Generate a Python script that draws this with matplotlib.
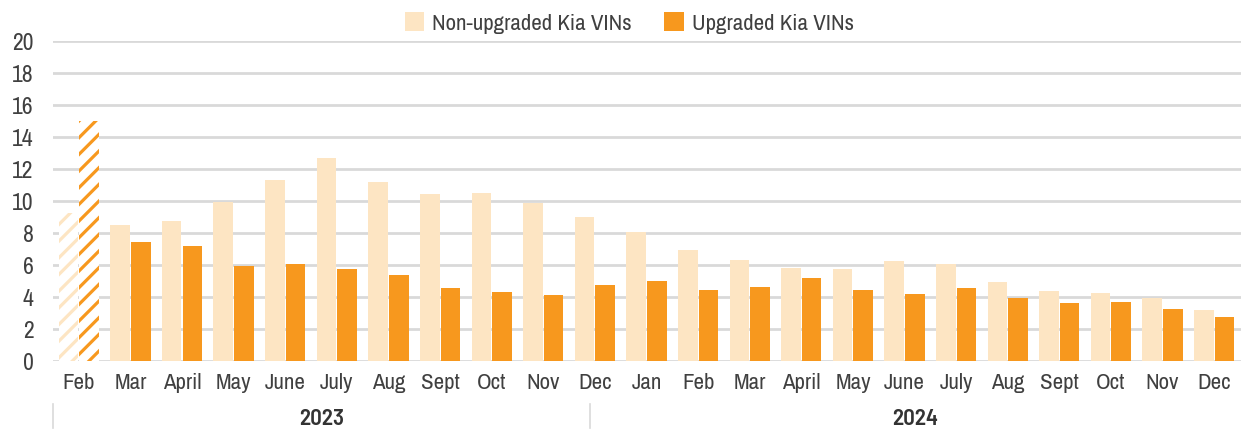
import numpy as np
import matplotlib
matplotlib.use('Agg')
import matplotlib.pyplot as plt
from matplotlib.patches import Patch
from matplotlib.lines import Line2D

# Data
MONTHS = ['Feb', 'Mar', 'April', 'May', 'June', 'July', 'Aug', 'Sept', 'Oct', 'Nov', 'Dec',
          'Jan', 'Feb', 'Mar', 'April', 'May', 'June', 'July', 'Aug', 'Sept', 'Oct', 'Nov', 'Dec']
NON_UPGRADED = [9.25, 8.5, 8.75, 9.95, 11.3, 12.67, 11.17, 10.42, 10.48, 9.85, 8.98,
                8.04, 6.92, 6.29, 5.79, 5.73, 6.23, 6.04, 4.92, 4.35, 4.23, 3.92, 3.17]
UPGRADED = [15.0, 7.44, 7.15, 5.94, 6.04, 5.73, 5.35, 4.54, 4.29, 4.1, 4.73,
            4.98, 4.42, 4.6, 5.17, 4.42, 4.17, 4.54, 3.92, 3.6, 3.67, 3.23, 2.73]
YEARS = ['2023', '2024']
YEAR_BOUNDS = [(0.0, 0.452), (0.452, 1.0)]  # axes fraction spans for year labels

C_NON = '#FDE5C3'
C_UPG = '#F7981E'
C_TEXT = '#404040'
C_GRID = '#D9D9D9'

plt.rcParams['font.family'] = ['Archivo Narrow', 'DejaVu Sans']
plt.rcParams['hatch.linewidth'] = 2.3
FS = 16.5
BOLD_FAMILY = ['Barlow Semi Condensed', 'DejaVu Sans']

fig = plt.figure(figsize=(12.41, 4.31), dpi=100)
ax = fig.add_axes([0.0427, 0.1608, 0.9573, 0.7424])

x = np.arange(len(MONTHS))
w = 0.38
off = 0.2

for i in x:
    if i == 0:
        # first month is shown hatched
        ax.bar(i - off, NON_UPGRADED[i], w, color='white', edgecolor=C_NON,
               hatch='//', linewidth=0, zorder=3)
        ax.bar(i + off, UPGRADED[i], w, color='white', edgecolor=C_UPG,
               hatch='//', linewidth=0, zorder=3)
    else:
        ax.bar(i - off, NON_UPGRADED[i], w, color=C_NON, linewidth=0, zorder=3)
        ax.bar(i + off, UPGRADED[i], w, color=C_UPG, linewidth=0, zorder=3)

ax.set_xlim(-0.5, len(MONTHS) - 0.48)
ax.set_ylim(0, 20)
ax.set_yticks(np.arange(0, 21, 2))
ax.yaxis.grid(True, color=C_GRID, linewidth=2, zorder=0)
ax.set_axisbelow(True)
for s in ax.spines.values():
    s.set_visible(False)

ax.set_xticks(x)
ax.set_xticklabels(MONTHS)
ax.tick_params(axis='both', length=0, labelsize=FS, colors=C_TEXT)
ax.tick_params(axis='y', labelsize=17, pad=14)
ax.tick_params(axis='x', pad=8)

# year group labels and separators below month labels
for (a, b), yr in zip(YEAR_BOUNDS, YEARS):
    ax.text((a + b) / 2, -0.178, yr, transform=ax.transAxes, ha='center', va='center',
            fontsize=FS, fontweight='semibold', family=BOLD_FAMILY, color='#333333')
for xs in [0.0, 0.452]:
    ax.add_line(Line2D([xs, xs], [-0.135, -0.21], transform=ax.transAxes,
                       color=C_GRID, linewidth=1.2, clip_on=False))

handles = [Patch(facecolor=C_NON, label='Non-upgraded Kia VINs'),
           Patch(facecolor=C_UPG, label='Upgraded Kia VINs')]
leg = fig.legend(handles=handles, loc='upper center', bbox_to_anchor=(0.507, 1.017), ncol=2,
                 frameon=False, fontsize=FS, handlelength=0.85, handleheight=0.85,
                 handletextpad=0.35, columnspacing=1.4)
for t in leg.get_texts():
    t.set_color(C_TEXT)

fig.savefig('out.png', dpi=100)
